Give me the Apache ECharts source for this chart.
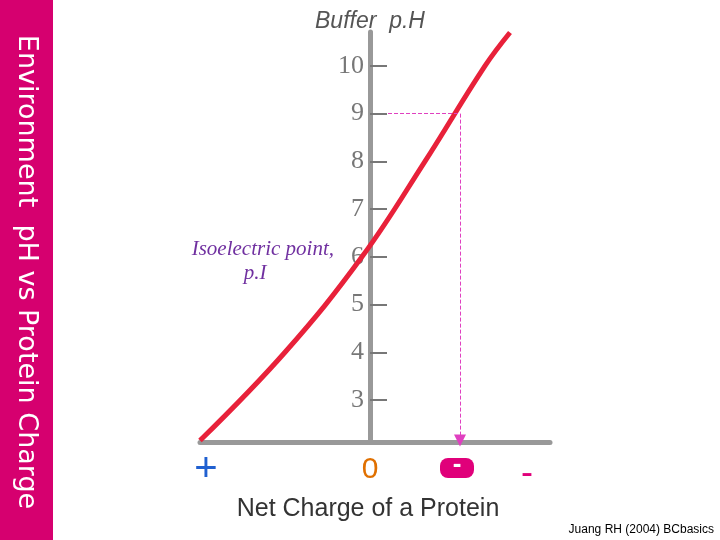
<!DOCTYPE html>
<html><head><meta charset="utf-8">
<script src="https://cdn.jsdelivr.net/npm/echarts@6/dist/echarts.min.js"></script>
<style>html,body{margin:0;padding:0;background:#fff}#c{width:720px;height:540px}</style>
</head><body><div id="c"></div>
<script>
const charge = [-170, -85, -8, 55, 115, 140];
const pH = [2.15, 4, 6, 8, 10, 10.7];
const tickValues = [3, 4, 5, 6, 7, 8, 9, 10];
const pointCharge = 90, pointPH = 9;

const chart = echarts.init(document.getElementById('c'));
chart.setOption({
  animation: false,
  grid: {left: 200, right: 170, top: 32, bottom: 98},
  xAxis: {type: 'value', min: -170, max: 180, splitLine: {show: false},
    axisLine: {onZero: false, lineStyle: {color: '#999', width: 5}}, axisTick: {show: false}, axisLabel: {show: false}},
  yAxis: {type: 'value', min: 2.12, max: 10.71, splitLine: {show: false},
    axisLine: {show: true, onZero: true, lineStyle: {color: '#999', width: 5}},
    axisTick: {show: true, inside: true, length: 17, customValues: tickValues, lineStyle: {color: '#777', width: 2}},
    axisLabel: {show: false}},
  series: [{
    type: 'line', smooth: 0.4, symbol: 'none',
    data: charge.map((c, i) => [c, pH[i]]),
    lineStyle: {color: '#e8213a', width: 5},
    markLine: {silent: true, label: {show: false}, symbolSize: 12,
      lineStyle: {color: '#e040c0', type: 'dashed', width: 1},
      data: [
        [{coord: [18, pointPH], symbol: 'none'}, {coord: [pointCharge, pointPH], symbol: 'none'}],
        [{coord: [pointCharge, pointPH], symbol: 'none'}, {coord: [pointCharge, 2.15], symbol: 'triangle', symbolRotate: 180}]
      ]}
  }, {
    type: 'scatter', symbolSize: 0, silent: true,
    data: tickValues.map(v => [0, v]),
    label: {show: true, position: 'left', distance: 6, formatter: p => p.value[1],
      fontFamily: 'Liberation Serif', fontSize: 26, color: '#555'}
  }],
  graphic: [
    {type: 'rect', shape: {x: 0, y: 0, width: 53, height: 540}, style: {fill: '#d6006f'}},
    {type: 'text', x: 26, y: 272, rotation: -Math.PI / 2,
      style: {text: 'Environment  pH vs Protein Charge', fill: '#fff', font: '27px "DejaVu Sans"', align: 'center', verticalAlign: 'middle'}},
    {type: 'text', x: 370, y: 22, style: {text: 'Buffer  p.H', fill: '#555', font: 'italic 23px "Liberation Sans"', align: 'center', verticalAlign: 'middle'}},
    {type: 'text', x: 334, y: 249, style: {text: 'Isoelectric point,', fill: '#7030a0', font: 'italic 21px "Liberation Serif"', align: 'right', verticalAlign: 'middle'}},
    {type: 'text', x: 255, y: 273, style: {text: 'p.I', fill: '#7030a0', font: 'italic 21px "Liberation Serif"', align: 'center', verticalAlign: 'middle'}},
    {type: 'text', x: 206, y: 470, style: {text: '+', fill: '#2060d0', font: '40px "Liberation Sans"', align: 'center', verticalAlign: 'middle'}},
    {type: 'text', x: 370, y: 470, style: {text: '0', fill: '#e07000', font: '30px "Liberation Sans"', align: 'center', verticalAlign: 'middle'}},
    {type: 'rect', shape: {x: 440, y: 458, width: 34, height: 20, r: 8}, style: {fill: '#e0007a'}},
    {type: 'text', x: 457, y: 465, style: {text: '-', fill: '#fff', font: 'bold 26px "Liberation Sans"', align: 'center', verticalAlign: 'middle'}},
    {type: 'text', x: 527, y: 474, style: {text: '-', fill: '#e0007a', font: '36px "Liberation Sans"', align: 'center', verticalAlign: 'middle'}},
    {type: 'text', x: 368, y: 509, style: {text: 'Net Charge of a Protein', fill: '#333', font: '25px "Liberation Sans"', align: 'center', verticalAlign: 'middle'}},
    {type: 'text', x: 714, y: 530, style: {text: 'Juang RH (2004) BCbasics', fill: '#000', font: '12px "Liberation Sans"', align: 'right', verticalAlign: 'middle'}}
  ]
});
</script></body></html>
